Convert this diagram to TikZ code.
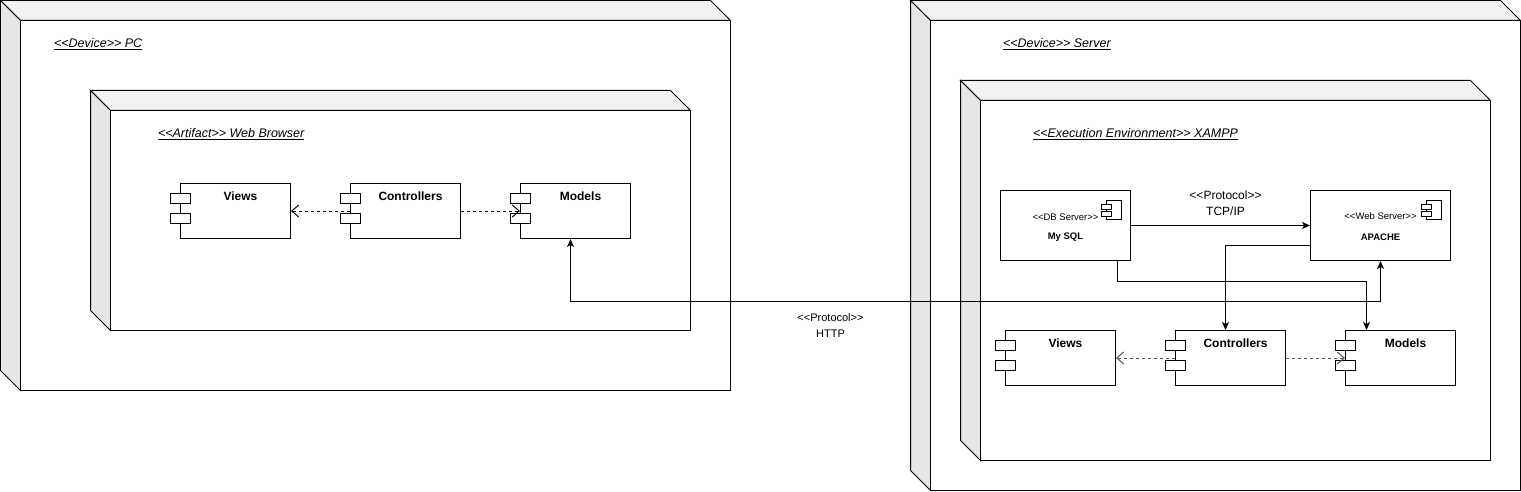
\documentclass[tikz,border=0pt]{standalone}
\usepackage{fontspec}
\setmainfont{Liberation Sans}[Ligatures=TeXOff]
\usetikzlibrary{arrows.meta,calc}
\definecolor{topface}{HTML}{F1F1F1}
\definecolor{sideface}{HTML}{E6E6E6}
\definecolor{dgray}{HTML}{555555}
\newcommand\cubebox[4]{%
 \filldraw[fill=topface] (#1,#2) -- ({#3-20},#2) -- (#3,{#2+20}) -- ({#1+20},{#2+20}) -- cycle;
 \filldraw[fill=sideface] (#1,#2) -- ({#1+20},{#2+20}) -- ({#1+20},#4) -- (#1,{#4-20}) -- cycle;
 \filldraw[fill=white] ({#1+20},{#2+20}) rectangle (#3,#4);}
\newcommand\jetty[1]{%
 \draw[fill=white] ([xshift=-10pt,yshift=-10pt]#1.north west) rectangle ++(20,10);
 \draw[fill=white] ([xshift=-10pt,yshift=-30pt]#1.north west) rectangle ++(20,10);}
\newcommand\compicon[1]{%
 \draw[fill=white] ([xshift=-25pt,yshift=-10pt]#1.north east) rectangle ++(15,19);
 \draw[fill=white] ([xshift=-30pt,yshift=-14pt]#1.north east) rectangle ++(10,5);
 \draw[fill=white] ([xshift=-30pt,yshift=-21.5pt]#1.north east) rectangle ++(10,5);}
\tikzset{
 every path/.style={line width=1pt},
 comp/.style={draw, fill=white, minimum width=110pt, minimum height=55pt, inner sep=0pt},
 comptext/.style={font=\bfseries\fontsize{12}{14}\selectfont, anchor=center, xshift=5pt, yshift=-13pt, inner sep=0pt},
 srv/.style={draw, fill=white, minimum height=70pt, inner sep=0pt},
 stereo/.style={font=\itshape\fontsize{12.5}{14}\selectfont, anchor=west, inner sep=0pt},
 small/.style={font=\fontsize{9.5}{11}\selectfont, inner sep=0pt},
 smallb/.style={font=\bfseries\fontsize{9.5}{11}\selectfont, inner sep=0pt},
 dep/.style={dash pattern=on 3pt off 3pt, -{Straight Barb[length=7pt,width=12pt]}},
 arr/.style={-{Stealth[length=8pt,width=7pt,inset=2pt]}},
 proto/.style={align=center, inner sep=0pt},
}
\begin{document}
\begin{tikzpicture}[x=1pt,y=-1pt]
\useasboundingbox (-0.5,-0.5) rectangle (1520.5,491.5);
% cubes
\cubebox{0}{0}{730}{390}
\cubebox{90}{90}{690}{330}
\cubebox{910}{0}{1520}{490}
\cubebox{960}{80}{1490}{460}
% titles
\node[stereo] (pclbl) at (53,44) {\underline{<<Device>> PC}};
\node[stereo] (wblbl) at (157,134) {\underline{<<Artifact>> Web Browser}};
\node[stereo] (srvlbl) at (1002,44) {\underline{<<Device>> Server}};
\node[stereo] (xlbl) at (1032,134) {\underline{<<Execution Environment>> XAMPP}};
% browser components
\node[comp, label={[comptext]north:Views}] (bviews) at (235,210.5) {};
\node[comp, label={[comptext]north:Controllers}] (bctrl) at (405,210.5) {};
\node[comp, label={[comptext]north:Models}] (bmod) at (575,210.5) {};
\jetty{bviews}\jetty{bctrl}\jetty{bmod}
% server components
\node[comp, label={[comptext]north:Views}] (sviews) at (1060,357.5) {};
\node[comp, label={[comptext]north:Controllers}] (sctrl) at (1230,357.5) {};
\node[comp, label={[comptext]north:Models}] (smod) at (1400,357.5) {};
\jetty{sviews}\jetty{sctrl}\jetty{smod}
% servers
\node[srv, minimum width=130pt] (db) at (1065,225) {};
\node[srv, minimum width=140pt] (web) at (1380,225) {};
\compicon{db}\compicon{web}
\node[small] (dbst) at (1065,217) {<<DB Server>>};
\node[smallb] (dbname) at (1065,237) {My SQL};
\node[small] (webst) at (1380,216) {<<Web Server>>};
\node[smallb] (webname) at (1380,237) {APACHE};
% dependencies
\draw[dep] (bctrl.west) -- (bviews.east);
\draw[dep] (bctrl.east) -- (bmod.west);
\draw[dep, dgray] (sctrl.west) -- (sviews.east);
\draw[dep, dgray] (sctrl.east) -- (smod.west);
% connectors
\draw[arr] (db.east) -- (web.west);
\draw[arr] ([yshift=-20pt]web.west) -| ([xshift=-5pt]sctrl.north);
\draw[arr] ([xshift=52pt]db.south) -- ++(0,20) -| ([xshift=-34pt]smod.north);
\draw[{Stealth[length=8pt,width=7pt,inset=2pt]}-{Stealth[length=8pt,width=7pt,inset=2pt]}] ([xshift=-5pt]bmod.south) -- ++(0,62) -| (web.south);
% protocol labels
\node[proto, font=\fontsize{12}{16}\selectfont] (tcp) at (1225,203) {<<Protocol>>\\TCP/IP};
\node[proto, font=\fontsize{11}{16}\selectfont] (http) at (830,325) {<<Protocol>>\\HTTP};
\end{tikzpicture}
\end{document}
